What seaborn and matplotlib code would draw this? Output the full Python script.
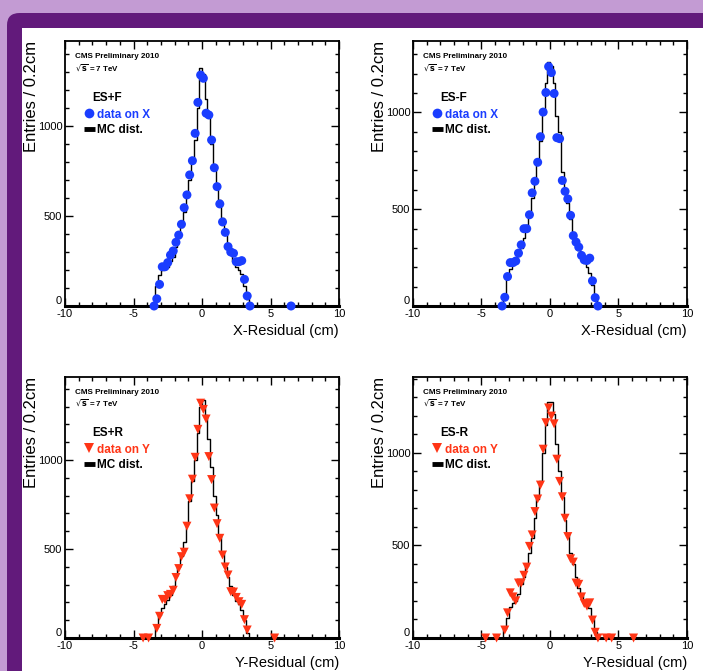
import matplotlib.pyplot as plt
import seaborn as sns
from matplotlib.patches import FancyBboxPatch, Rectangle
from matplotlib.lines import Line2D
from matplotlib.ticker import MultipleLocator

# bin centres of the 0.2 cm MC histograms
bin_centers = [-3.5, -3.3, -3.1, -2.9, -2.7, -2.5, -2.3, -2.1, -1.9, -1.7, -1.5, -1.3,
               -1.1, -0.9, -0.7, -0.5, -0.3, -0.1, 0.1, 0.3, 0.5, 0.7, 0.9, 1.1,
               1.3, 1.5, 1.7, 1.9, 2.1, 2.3, 2.5, 2.7, 2.9, 3.1, 3.3, 3.5]
bin_edges = [c - 0.1 for c in bin_centers] + [bin_centers[-1] + 0.1]
y_ticks = [0, 500, 1000]

# ES+F (X residual)
esf_plus_x = bin_centers + [6.5]
esf_plus_data = [0, 40, 120, 218, 218, 241, 283, 306, 354, 394, 454, 546, 617, 728, 807, 959,
                 1131, 1283, 1265, 1071, 1061, 922, 768, 663, 567, 467, 409, 330, 300, 293,
                 246, 246, 252, 148, 56, 0, 0]
esf_plus_mc = [0, 110, 170, 200, 205, 215, 250, 270, 330, 380, 440, 520, 610, 700, 800, 920,
               1100, 1320, 1290, 1150, 1050, 900, 770, 680, 590, 490, 400, 330, 290, 250,
               215, 200, 180, 110, 40, 0]

# ES-F (X residual)
esf_minus_x = bin_centers
esf_minus_data = [0, 45, 152, 224, 224, 232, 273, 316, 399, 399, 471, 584, 644, 742, 874, 1001,
                  1102, 1236, 1205, 1097, 869, 864, 648, 592, 553, 468, 363, 330, 304, 261,
                  238, 235, 247, 130, 43, 0]
esf_minus_mc = [0, 60, 140, 190, 215, 225, 260, 300, 350, 420, 480, 560, 650, 750, 850, 1000,
                1150, 1260, 1240, 1150, 980, 900, 690, 600, 530, 450, 380, 330, 290, 250,
                220, 200, 170, 110, 30, 0]

# ES+R (Y residual)
esr_plus_x = [-4.3, -3.9, -3.3, -3.1, -2.9, -2.7, -2.5, -2.3, -2.1, -1.9, -1.7, -1.5, -1.3,
              -1.1, -0.9, -0.7, -0.5, -0.3, -0.1, 0.1, 0.3, 0.5, 0.7, 0.9, 1.1, 1.3, 1.5,
              1.7, 1.9, 2.1, 2.3, 2.5, 2.7, 2.9, 3.1, 3.3, 5.3]
esr_plus_data = [0, 0, 54, 122, 217, 215, 238, 245, 268, 340, 390, 457, 482, 628, 782, 892,
                 1015, 1172, 1319, 1284, 1230, 1019, 890, 730, 642, 560, 466, 399, 354, 260,
                 258, 228, 204, 189, 103, 45, 0]
esr_plus_mc = [0, 60, 130, 170, 190, 215, 240, 290, 350, 400, 460, 540, 640, 770, 880, 1000,
               1150, 1300, 1335, 1250, 1120, 960, 800, 690, 580, 480, 400, 340, 290, 240,
               210, 190, 160, 100, 30, 0]

# ES-R (Y residual)
esr_minus_x = [-4.7, -3.9, -3.3, -3.1, -2.9, -2.7, -2.5, -2.3, -2.1, -1.9, -1.7, -1.5, -1.3,
               -1.1, -0.9, -0.7, -0.5, -0.3, -0.1, 0.1, 0.3, 0.5, 0.7, 0.9, 1.1, 1.3, 1.5,
               1.7, 1.9, 2.1, 2.3, 2.5, 2.7, 2.9, 3.1, 3.3, 3.5, 4.1, 4.5, 6.1]
esr_minus_data = [0, 0, 43, 136, 244, 222, 201, 297, 297, 339, 383, 495, 557, 683, 751, 826,
                  1020, 1163, 1243, 1199, 1157, 966, 846, 763, 647, 548, 428, 410, 297, 290,
                  222, 186, 172, 190, 97, 31, 0, 0, 0, 0]
esr_minus_mc = [0, 50, 110, 170, 190, 200, 240, 290, 330, 390, 460, 540, 650, 750, 850, 1000,
                1150, 1275, 1275, 1210, 1050, 900, 760, 640, 560, 460, 400, 330, 270, 230,
                200, 180, 160, 100, 30, 0]

BLUE = '#1a3dff'
RED = '#ff3516'

sns.set_theme(style='ticks')
plt.rcParams['font.family'] = ['Liberation Sans', 'DejaVu Sans']
plt.rcParams['mathtext.fontset'] = 'dejavusans'
plt.rcParams['axes.unicode_minus'] = False
plt.rcParams['axes.edgecolor'] = 'black'
plt.rcParams['axes.labelcolor'] = 'black'
plt.rcParams['xtick.color'] = 'black'
plt.rcParams['ytick.color'] = 'black'
plt.rcParams['text.color'] = 'black'

W, H = 703, 671
fig = plt.figure(figsize=(W / 100, H / 100), dpi=100, facecolor='#c39bd3')

# slide-like background: purple band with white page
fig.add_artist(FancyBboxPatch((7 / W, -0.1), 1.2, 658 / H + 0.1,
                              boxstyle='round,pad=0,rounding_size=0.018',
                              transform=fig.transFigure, fc='#621a7b', ec='none', zorder=-3))
fig.add_artist(Rectangle((22 / W, -0.1), 1.2, 643 / H + 0.1,
                         transform=fig.transFigure, fc='white', ec='none', zorder=-2))


def draw_panel(rect, px, py, mc, title, color, marker, data_label, xlabel, ytop):
    ax = fig.add_axes(rect)
    ax.set_facecolor('white')
    sns.histplot(x=bin_centers, weights=mc, bins=bin_edges, element='step', fill=False,
                 color='black', linewidth=1.0, ax=ax)
    sns.scatterplot(x=px, y=py, marker=marker, color=color, s=42, edgecolor='none',
                    clip_on=False, zorder=3, ax=ax)

    ax.set_xlim(-10, 10)
    ax.set_ylim(0, ytop)
    ax.xaxis.set_major_locator(MultipleLocator(5))
    ax.xaxis.set_minor_locator(MultipleLocator(1))
    ax.set_yticks(y_ticks)
    ax.yaxis.set_minor_locator(MultipleLocator(100))
    ax.tick_params(which='both', direction='in', top=True, right=True, labelsize=8, pad=2)
    ax.tick_params(which='major', length=6, width=1)
    ax.tick_params(which='minor', length=3, width=1)
    for side in ['left', 'right', 'top']:
        ax.spines[side].set_linewidth(1.3)
    ax.spines['bottom'].set_linewidth(2.2)
    # ROOT puts the "0" just above the x axis
    ax.yaxis.get_major_ticks()[0].label1.set_verticalalignment('bottom')

    ax.set_xlabel(xlabel, loc='right', fontsize=10.5, labelpad=4)
    ax.set_ylabel('Entries / 0.2cm', loc='top', fontsize=12, labelpad=-1)

    ax.text(0.036, 0.941, 'CMS Preliminary 2010', transform=ax.transAxes,
            fontsize=5.8, fontweight='bold', va='center')
    ax.text(0.036, 0.898, r'$\sqrt{\mathbf{s}}$ = 7 TeV', transform=ax.transAxes,
            fontsize=5.8, fontweight='bold', va='center')
    ax.text(0.101, 0.784, title, transform=ax.transAxes,
            fontsize=8.5, fontweight='bold', va='center')

    handles = [Line2D([], [], ls='none', marker=marker, color=color, markersize=7,
                      markeredgewidth=0),
               Line2D([], [], color='black', lw=3.5, solid_capstyle='butt')]
    ax.legend(handles, [data_label, 'MC dist.'], loc='upper left',
              bbox_to_anchor=(0.069, 0.745), frameon=False, handlelength=0.9,
              handletextpad=0.25, borderpad=0, borderaxespad=0, labelspacing=0.3,
              prop={'weight': 'bold', 'size': 8.5}, labelcolor=[color, 'black'])
    return ax


left1, left2, width = 65 / W, 413 / W, 274 / W
top_bottom, top_height = (H - 306) / H, 265 / H
bot_bottom, bot_height = (H - 638) / H, 261 / H

draw_panel([left1, top_bottom, width, top_height], esf_plus_x, esf_plus_data, esf_plus_mc,
           'ES+F', BLUE, 'o', 'data on X', 'X-Residual (cm)', 1472)
draw_panel([left2, top_bottom, width, top_height], esf_minus_x, esf_minus_data, esf_minus_mc,
           'ES-F', BLUE, 'o', 'data on X', 'X-Residual (cm)', 1368)
draw_panel([left1, bot_bottom, width, bot_height], esr_plus_x, esr_plus_data, esr_plus_mc,
           'ES+R', RED, 'v', 'data on Y', 'Y-Residual (cm)', 1466)
draw_panel([left2, bot_bottom, width, bot_height], esr_minus_x, esr_minus_data, esr_minus_mc,
           'ES-R', RED, 'v', 'data on Y', 'Y-Residual (cm)', 1410)

fig.savefig('out.png', dpi=100, facecolor=fig.get_facecolor())
